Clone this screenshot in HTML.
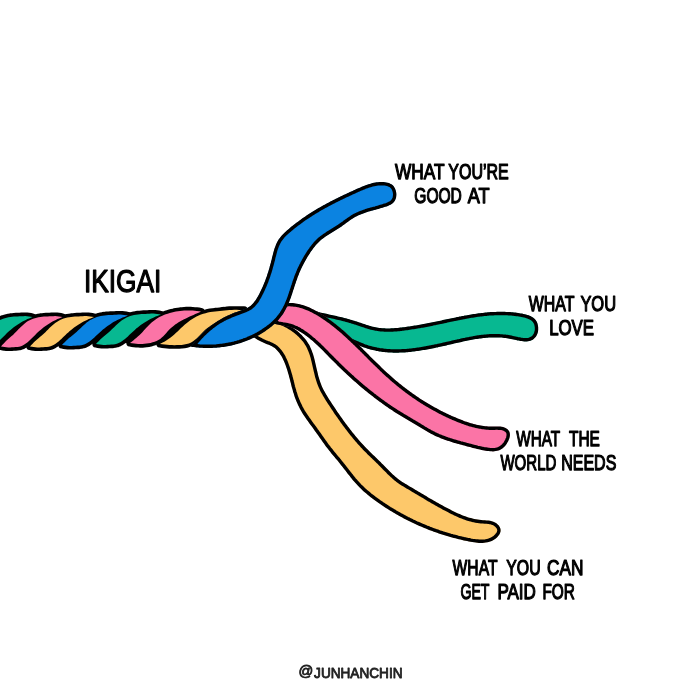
<!DOCTYPE html><html><head><meta charset="utf-8"><title>Ikigai</title><style>html,body{margin:0;padding:0;background:#fff;}body{width:700px;height:700px;overflow:hidden;font-family:"Liberation Sans",sans-serif;}svg{display:block;}</style></head><body><svg width="700" height="700" viewBox="0 0 700 700">
<rect width="700" height="700" fill="#fff"/>
<path d="M-5,320 L60,320 L130,318 L200,314 L200,340 L130,343 L60,344 L-5,344Z" fill="#000"/>
<g stroke="#000" stroke-width="7.3" stroke-linejoin="round" fill="#000">
<path d="M-29.0,346.5 L-27.8,345.1 L-26.5,343.7 L-25.3,342.4 L-24.0,341.0 L-22.6,339.8 L-21.2,338.5 L-19.8,337.3 L-18.4,336.1 L-17.0,334.9 L-15.7,333.6 L-14.4,332.3 L-13.1,331.0 L-11.8,329.6 L-10.5,328.3 L-9.2,327.0 L-7.8,325.7 L-6.4,324.4 L-5.0,323.2 L-3.5,322.1 L-2.0,321.1 L-0.3,320.2 L1.3,319.4 L3.1,318.7 L4.9,318.2 L6.7,317.7 L8.5,317.3 L10.3,317.0 L12.2,316.8 L14.0,316.6 L15.9,316.5 L17.7,316.4 L19.6,316.3 L21.4,316.2 L23.3,316.2 L25.1,316.1 L27.0,316.2 L28.8,316.4 L30.7,316.7 L32.5,317.0 L30.8,317.7 L29.1,318.4 L27.4,319.1 L25.8,319.9 L24.1,320.7 L22.5,321.5 L20.9,322.4 L19.4,323.4 L17.8,324.4 L16.3,325.4 L14.8,326.5 L13.4,327.6 L12.0,328.7 L10.5,329.9 L9.2,331.1 L7.8,332.3 L6.5,333.6 L5.2,334.9 L3.9,336.2 L2.6,337.5 L1.3,338.8 L0.0,340.0 L-1.3,341.3 L-2.7,342.5 L-4.2,343.6 L-5.7,344.6 L-7.3,345.5 L-9.0,346.2 L-10.8,346.7 L-12.6,346.9 L-14.4,347.1 L-16.3,347.2 L-18.1,347.3 L-19.9,347.4 L-21.7,347.4 L-23.6,347.3 L-25.4,347.1 L-27.2,346.8Z"/>
<path d="M1.0,346.5 L2.2,345.1 L3.5,343.7 L4.7,342.4 L6.0,341.0 L7.4,339.8 L8.8,338.5 L10.2,337.3 L11.6,336.1 L13.0,334.9 L14.3,333.6 L15.6,332.3 L16.9,331.0 L18.2,329.6 L19.5,328.3 L20.8,327.0 L22.2,325.7 L23.6,324.4 L25.0,323.2 L26.5,322.1 L28.0,321.1 L29.7,320.2 L31.3,319.4 L33.1,318.7 L34.9,318.2 L36.7,317.7 L38.5,317.3 L40.3,317.0 L42.2,316.8 L44.0,316.6 L45.9,316.5 L47.7,316.4 L49.6,316.3 L51.4,316.2 L53.3,316.2 L55.1,316.1 L57.0,316.2 L58.8,316.4 L60.7,316.7 L62.5,317.0 L60.8,317.7 L59.1,318.4 L57.4,319.1 L55.8,319.9 L54.1,320.7 L52.5,321.5 L50.9,322.4 L49.4,323.4 L47.8,324.4 L46.3,325.4 L44.8,326.5 L43.4,327.6 L42.0,328.7 L40.5,329.9 L39.2,331.1 L37.8,332.3 L36.5,333.6 L35.2,334.9 L33.9,336.2 L32.6,337.5 L31.3,338.8 L30.0,340.0 L28.7,341.3 L27.3,342.5 L25.8,343.6 L24.3,344.6 L22.7,345.5 L21.0,346.2 L19.2,346.7 L17.4,346.9 L15.6,347.1 L13.7,347.2 L11.9,347.3 L10.1,347.4 L8.3,347.4 L6.4,347.3 L4.6,347.1 L2.8,346.8Z"/>
<path d="M30.0,346.5 L31.3,345.1 L32.6,343.7 L33.9,342.3 L35.3,341.0 L36.7,339.7 L38.2,338.4 L39.6,337.2 L41.1,336.0 L42.6,334.8 L44.0,333.5 L45.4,332.2 L46.7,330.8 L48.1,329.5 L49.4,328.1 L50.8,326.8 L52.2,325.5 L53.7,324.3 L55.2,323.1 L56.8,322.0 L58.4,321.0 L60.1,320.1 L61.8,319.3 L63.6,318.6 L65.5,318.1 L67.3,317.6 L69.2,317.3 L71.1,317.0 L73.0,316.8 L74.9,316.6 L76.8,316.5 L78.7,316.4 L80.6,316.3 L82.5,316.2 L84.5,316.1 L86.4,316.1 L88.3,316.2 L90.2,316.4 L92.1,316.7 L94.0,317.0 L92.2,317.7 L90.5,318.4 L88.7,319.1 L87.0,319.9 L85.3,320.7 L83.6,321.5 L81.9,322.4 L80.3,323.4 L78.7,324.4 L77.1,325.4 L75.6,326.5 L74.1,327.6 L72.6,328.7 L71.1,329.9 L69.7,331.1 L68.3,332.4 L66.9,333.6 L65.5,334.9 L64.1,336.3 L62.8,337.6 L61.4,338.9 L60.1,340.1 L58.6,341.4 L57.2,342.6 L55.6,343.7 L54.0,344.7 L52.4,345.6 L50.6,346.3 L48.8,346.7 L46.9,347.0 L45.0,347.1 L43.1,347.2 L41.2,347.3 L39.4,347.4 L37.5,347.4 L35.6,347.3 L33.7,347.1 L31.9,346.8Z"/>
<path d="M62.0,345.0 L63.3,343.6 L64.7,342.2 L66.1,340.8 L67.5,339.4 L69.0,338.1 L70.5,336.9 L72.0,335.7 L73.5,334.4 L75.0,333.2 L76.5,331.9 L78.0,330.6 L79.4,329.2 L80.8,327.9 L82.2,326.5 L83.6,325.2 L85.1,323.9 L86.6,322.6 L88.2,321.4 L89.8,320.3 L91.5,319.4 L93.3,318.5 L95.1,317.7 L96.9,317.1 L98.8,316.5 L100.7,316.1 L102.6,315.7 L104.6,315.5 L106.5,315.2 L108.5,315.1 L110.4,315.0 L112.4,314.9 L114.3,314.8 L116.3,314.7 L118.3,314.6 L120.2,314.6 L122.2,314.7 L124.1,314.9 L126.1,315.2 L128.0,315.5 L126.2,316.2 L124.4,316.9 L122.6,317.6 L120.8,318.4 L119.1,319.2 L117.3,320.0 L115.6,320.9 L113.9,321.8 L112.3,322.8 L110.7,323.9 L109.1,325.0 L107.5,326.1 L105.9,327.2 L104.4,328.4 L102.9,329.6 L101.4,330.9 L100.0,332.2 L98.6,333.5 L97.2,334.8 L95.8,336.1 L94.4,337.4 L92.9,338.7 L91.4,340.0 L89.9,341.2 L88.3,342.3 L86.7,343.3 L84.9,344.2 L83.1,344.8 L81.3,345.2 L79.3,345.5 L77.4,345.6 L75.5,345.7 L73.5,345.8 L71.6,345.9 L69.7,345.9 L67.7,345.8 L65.8,345.6 L63.9,345.3Z"/>
<path d="M96.0,344.0 L97.3,342.6 L98.7,341.2 L100.0,339.8 L101.4,338.5 L102.8,337.2 L104.3,335.9 L105.8,334.7 L107.3,333.5 L108.8,332.2 L110.2,331.0 L111.6,329.6 L113.0,328.3 L114.4,326.9 L115.8,325.6 L117.2,324.2 L118.6,322.9 L120.1,321.7 L121.6,320.5 L123.2,319.4 L124.9,318.4 L126.6,317.5 L128.4,316.8 L130.2,316.1 L132.1,315.6 L134.0,315.1 L135.9,314.7 L137.8,314.5 L139.7,314.3 L141.6,314.1 L143.5,314.0 L145.5,313.9 L147.4,313.8 L149.3,313.7 L151.3,313.6 L153.2,313.6 L155.1,313.7 L157.1,313.9 L159.0,314.2 L160.9,314.5 L159.1,315.2 L157.3,315.9 L155.6,316.6 L153.8,317.4 L152.1,318.2 L150.4,319.0 L148.7,319.9 L147.1,320.9 L145.4,321.9 L143.8,322.9 L142.3,324.0 L140.7,325.1 L139.2,326.2 L137.7,327.4 L136.2,328.6 L134.8,329.9 L133.4,331.2 L132.0,332.5 L130.6,333.8 L129.2,335.1 L127.9,336.4 L126.4,337.7 L125.0,338.9 L123.5,340.1 L121.9,341.2 L120.3,342.3 L118.6,343.1 L116.9,343.8 L115.0,344.2 L113.1,344.5 L111.2,344.6 L109.3,344.7 L107.4,344.8 L105.5,344.9 L103.6,344.9 L101.7,344.8 L99.8,344.6 L97.9,344.3Z"/>
<path d="M130.0,343.0 L131.7,341.7 L133.3,340.4 L134.9,339.0 L136.5,337.7 L138.1,336.3 L139.6,334.9 L141.1,333.4 L142.6,331.9 L144.0,330.3 L145.4,328.8 L146.8,327.2 L148.3,325.7 L149.8,324.2 L151.3,322.8 L152.9,321.4 L154.6,320.2 L156.3,319.0 L158.1,317.8 L160.0,316.8 L161.8,315.9 L163.8,315.1 L165.7,314.3 L167.7,313.7 L169.8,313.1 L171.8,312.5 L173.8,312.1 L175.9,311.6 L178.0,311.3 L180.1,311.0 L182.1,310.8 L184.2,310.6 L186.3,310.5 L188.4,310.5 L190.5,310.5 L192.6,310.6 L194.7,310.8 L196.8,311.0 L198.9,311.2 L201.0,311.5 L199.1,312.4 L197.2,313.2 L195.3,314.1 L193.5,314.9 L191.6,315.8 L189.7,316.6 L187.8,317.5 L185.9,318.4 L184.1,319.3 L182.2,320.3 L180.4,321.3 L178.6,322.3 L176.9,323.4 L175.2,324.6 L173.5,325.9 L171.9,327.2 L170.4,328.6 L168.9,330.1 L167.5,331.6 L166.1,333.2 L164.7,334.8 L163.3,336.2 L161.8,337.6 L160.2,338.9 L158.4,340.0 L156.6,340.9 L154.6,341.7 L152.6,342.3 L150.6,342.9 L148.6,343.3 L146.5,343.6 L144.4,343.8 L142.4,344.0 L140.3,344.0 L138.2,343.9 L136.2,343.8 L134.1,343.6 L132.1,343.3Z"/>
<path d="M160.0,344.0 L162.1,342.8 L164.3,341.7 L166.3,340.4 L168.4,339.1 L170.3,337.8 L172.2,336.3 L174.0,334.7 L175.8,333.0 L177.6,331.4 L179.3,329.7 L181.0,328.0 L182.8,326.4 L184.6,324.7 L186.5,323.2 L188.4,321.7 L190.3,320.3 L192.3,318.9 L194.4,317.7 L196.5,316.6 L198.7,315.5 L201.0,314.6 L203.3,313.8 L205.6,313.2 L207.9,312.6 L210.3,312.1 L212.7,311.8 L215.1,311.5 L217.5,311.3 L219.9,311.0 L222.3,310.7 L224.7,310.5 L227.1,310.2 L229.5,310.0 L231.9,309.9 L234.3,309.8 L236.7,309.8 L239.2,309.9 L241.6,309.9 L244.0,310.0 L241.6,310.6 L239.3,311.2 L237.0,311.9 L234.7,312.6 L232.4,313.5 L230.2,314.4 L228.0,315.4 L225.8,316.5 L223.7,317.7 L221.6,318.9 L219.6,320.2 L217.5,321.4 L215.5,322.7 L213.4,324.0 L211.3,325.3 L209.3,326.7 L207.4,328.1 L205.5,329.6 L203.7,331.2 L202.0,332.9 L200.3,334.7 L198.6,336.4 L196.9,338.2 L195.0,339.8 L193.1,341.2 L191.1,342.5 L188.9,343.5 L186.6,344.1 L184.2,344.6 L181.7,344.9 L179.3,345.0 L176.9,345.1 L174.4,345.2 L172.0,345.1 L169.6,345.0 L167.2,344.8 L164.8,344.6 L162.4,344.3Z"/>
</g>
<path d="M-29.0,346.5 L-27.8,345.1 L-26.5,343.7 L-25.3,342.4 L-24.0,341.0 L-22.6,339.8 L-21.2,338.5 L-19.8,337.3 L-18.4,336.1 L-17.0,334.9 L-15.7,333.6 L-14.4,332.3 L-13.1,331.0 L-11.8,329.6 L-10.5,328.3 L-9.2,327.0 L-7.8,325.7 L-6.4,324.4 L-5.0,323.2 L-3.5,322.1 L-2.0,321.1 L-0.3,320.2 L1.3,319.4 L3.1,318.7 L4.9,318.2 L6.7,317.7 L8.5,317.3 L10.3,317.0 L12.2,316.8 L14.0,316.6 L15.9,316.5 L17.7,316.4 L19.6,316.3 L21.4,316.2 L23.3,316.2 L25.1,316.1 L27.0,316.2 L28.8,316.4 L30.7,316.7 L32.5,317.0 L30.8,317.7 L29.1,318.4 L27.4,319.1 L25.8,319.9 L24.1,320.7 L22.5,321.5 L20.9,322.4 L19.4,323.4 L17.8,324.4 L16.3,325.4 L14.8,326.5 L13.4,327.6 L12.0,328.7 L10.5,329.9 L9.2,331.1 L7.8,332.3 L6.5,333.6 L5.2,334.9 L3.9,336.2 L2.6,337.5 L1.3,338.8 L0.0,340.0 L-1.3,341.3 L-2.7,342.5 L-4.2,343.6 L-5.7,344.6 L-7.3,345.5 L-9.0,346.2 L-10.8,346.7 L-12.6,346.9 L-14.4,347.1 L-16.3,347.2 L-18.1,347.3 L-19.9,347.4 L-21.7,347.4 L-23.6,347.3 L-25.4,347.1 L-27.2,346.8Z" fill="#07b891"/>
<path d="M1.0,346.5 L2.2,345.1 L3.5,343.7 L4.7,342.4 L6.0,341.0 L7.4,339.8 L8.8,338.5 L10.2,337.3 L11.6,336.1 L13.0,334.9 L14.3,333.6 L15.6,332.3 L16.9,331.0 L18.2,329.6 L19.5,328.3 L20.8,327.0 L22.2,325.7 L23.6,324.4 L25.0,323.2 L26.5,322.1 L28.0,321.1 L29.7,320.2 L31.3,319.4 L33.1,318.7 L34.9,318.2 L36.7,317.7 L38.5,317.3 L40.3,317.0 L42.2,316.8 L44.0,316.6 L45.9,316.5 L47.7,316.4 L49.6,316.3 L51.4,316.2 L53.3,316.2 L55.1,316.1 L57.0,316.2 L58.8,316.4 L60.7,316.7 L62.5,317.0 L60.8,317.7 L59.1,318.4 L57.4,319.1 L55.8,319.9 L54.1,320.7 L52.5,321.5 L50.9,322.4 L49.4,323.4 L47.8,324.4 L46.3,325.4 L44.8,326.5 L43.4,327.6 L42.0,328.7 L40.5,329.9 L39.2,331.1 L37.8,332.3 L36.5,333.6 L35.2,334.9 L33.9,336.2 L32.6,337.5 L31.3,338.8 L30.0,340.0 L28.7,341.3 L27.3,342.5 L25.8,343.6 L24.3,344.6 L22.7,345.5 L21.0,346.2 L19.2,346.7 L17.4,346.9 L15.6,347.1 L13.7,347.2 L11.9,347.3 L10.1,347.4 L8.3,347.4 L6.4,347.3 L4.6,347.1 L2.8,346.8Z" fill="#fb74a6"/>
<path d="M30.0,346.5 L31.3,345.1 L32.6,343.7 L33.9,342.3 L35.3,341.0 L36.7,339.7 L38.2,338.4 L39.6,337.2 L41.1,336.0 L42.6,334.8 L44.0,333.5 L45.4,332.2 L46.7,330.8 L48.1,329.5 L49.4,328.1 L50.8,326.8 L52.2,325.5 L53.7,324.3 L55.2,323.1 L56.8,322.0 L58.4,321.0 L60.1,320.1 L61.8,319.3 L63.6,318.6 L65.5,318.1 L67.3,317.6 L69.2,317.3 L71.1,317.0 L73.0,316.8 L74.9,316.6 L76.8,316.5 L78.7,316.4 L80.6,316.3 L82.5,316.2 L84.5,316.1 L86.4,316.1 L88.3,316.2 L90.2,316.4 L92.1,316.7 L94.0,317.0 L92.2,317.7 L90.5,318.4 L88.7,319.1 L87.0,319.9 L85.3,320.7 L83.6,321.5 L81.9,322.4 L80.3,323.4 L78.7,324.4 L77.1,325.4 L75.6,326.5 L74.1,327.6 L72.6,328.7 L71.1,329.9 L69.7,331.1 L68.3,332.4 L66.9,333.6 L65.5,334.9 L64.1,336.3 L62.8,337.6 L61.4,338.9 L60.1,340.1 L58.6,341.4 L57.2,342.6 L55.6,343.7 L54.0,344.7 L52.4,345.6 L50.6,346.3 L48.8,346.7 L46.9,347.0 L45.0,347.1 L43.1,347.2 L41.2,347.3 L39.4,347.4 L37.5,347.4 L35.6,347.3 L33.7,347.1 L31.9,346.8Z" fill="#fdc86a"/>
<path d="M62.0,345.0 L63.3,343.6 L64.7,342.2 L66.1,340.8 L67.5,339.4 L69.0,338.1 L70.5,336.9 L72.0,335.7 L73.5,334.4 L75.0,333.2 L76.5,331.9 L78.0,330.6 L79.4,329.2 L80.8,327.9 L82.2,326.5 L83.6,325.2 L85.1,323.9 L86.6,322.6 L88.2,321.4 L89.8,320.3 L91.5,319.4 L93.3,318.5 L95.1,317.7 L96.9,317.1 L98.8,316.5 L100.7,316.1 L102.6,315.7 L104.6,315.5 L106.5,315.2 L108.5,315.1 L110.4,315.0 L112.4,314.9 L114.3,314.8 L116.3,314.7 L118.3,314.6 L120.2,314.6 L122.2,314.7 L124.1,314.9 L126.1,315.2 L128.0,315.5 L126.2,316.2 L124.4,316.9 L122.6,317.6 L120.8,318.4 L119.1,319.2 L117.3,320.0 L115.6,320.9 L113.9,321.8 L112.3,322.8 L110.7,323.9 L109.1,325.0 L107.5,326.1 L105.9,327.2 L104.4,328.4 L102.9,329.6 L101.4,330.9 L100.0,332.2 L98.6,333.5 L97.2,334.8 L95.8,336.1 L94.4,337.4 L92.9,338.7 L91.4,340.0 L89.9,341.2 L88.3,342.3 L86.7,343.3 L84.9,344.2 L83.1,344.8 L81.3,345.2 L79.3,345.5 L77.4,345.6 L75.5,345.7 L73.5,345.8 L71.6,345.9 L69.7,345.9 L67.7,345.8 L65.8,345.6 L63.9,345.3Z" fill="#0b83e1"/>
<path d="M96.0,344.0 L97.3,342.6 L98.7,341.2 L100.0,339.8 L101.4,338.5 L102.8,337.2 L104.3,335.9 L105.8,334.7 L107.3,333.5 L108.8,332.2 L110.2,331.0 L111.6,329.6 L113.0,328.3 L114.4,326.9 L115.8,325.6 L117.2,324.2 L118.6,322.9 L120.1,321.7 L121.6,320.5 L123.2,319.4 L124.9,318.4 L126.6,317.5 L128.4,316.8 L130.2,316.1 L132.1,315.6 L134.0,315.1 L135.9,314.7 L137.8,314.5 L139.7,314.3 L141.6,314.1 L143.5,314.0 L145.5,313.9 L147.4,313.8 L149.3,313.7 L151.3,313.6 L153.2,313.6 L155.1,313.7 L157.1,313.9 L159.0,314.2 L160.9,314.5 L159.1,315.2 L157.3,315.9 L155.6,316.6 L153.8,317.4 L152.1,318.2 L150.4,319.0 L148.7,319.9 L147.1,320.9 L145.4,321.9 L143.8,322.9 L142.3,324.0 L140.7,325.1 L139.2,326.2 L137.7,327.4 L136.2,328.6 L134.8,329.9 L133.4,331.2 L132.0,332.5 L130.6,333.8 L129.2,335.1 L127.9,336.4 L126.4,337.7 L125.0,338.9 L123.5,340.1 L121.9,341.2 L120.3,342.3 L118.6,343.1 L116.9,343.8 L115.0,344.2 L113.1,344.5 L111.2,344.6 L109.3,344.7 L107.4,344.8 L105.5,344.9 L103.6,344.9 L101.7,344.8 L99.8,344.6 L97.9,344.3Z" fill="#07b891"/>
<path d="M130.0,343.0 L131.7,341.7 L133.3,340.4 L134.9,339.0 L136.5,337.7 L138.1,336.3 L139.6,334.9 L141.1,333.4 L142.6,331.9 L144.0,330.3 L145.4,328.8 L146.8,327.2 L148.3,325.7 L149.8,324.2 L151.3,322.8 L152.9,321.4 L154.6,320.2 L156.3,319.0 L158.1,317.8 L160.0,316.8 L161.8,315.9 L163.8,315.1 L165.7,314.3 L167.7,313.7 L169.8,313.1 L171.8,312.5 L173.8,312.1 L175.9,311.6 L178.0,311.3 L180.1,311.0 L182.1,310.8 L184.2,310.6 L186.3,310.5 L188.4,310.5 L190.5,310.5 L192.6,310.6 L194.7,310.8 L196.8,311.0 L198.9,311.2 L201.0,311.5 L199.1,312.4 L197.2,313.2 L195.3,314.1 L193.5,314.9 L191.6,315.8 L189.7,316.6 L187.8,317.5 L185.9,318.4 L184.1,319.3 L182.2,320.3 L180.4,321.3 L178.6,322.3 L176.9,323.4 L175.2,324.6 L173.5,325.9 L171.9,327.2 L170.4,328.6 L168.9,330.1 L167.5,331.6 L166.1,333.2 L164.7,334.8 L163.3,336.2 L161.8,337.6 L160.2,338.9 L158.4,340.0 L156.6,340.9 L154.6,341.7 L152.6,342.3 L150.6,342.9 L148.6,343.3 L146.5,343.6 L144.4,343.8 L142.4,344.0 L140.3,344.0 L138.2,343.9 L136.2,343.8 L134.1,343.6 L132.1,343.3Z" fill="#fb74a6"/>
<path d="M160.0,344.0 L162.1,342.8 L164.3,341.7 L166.3,340.4 L168.4,339.1 L170.3,337.8 L172.2,336.3 L174.0,334.7 L175.8,333.0 L177.6,331.4 L179.3,329.7 L181.0,328.0 L182.8,326.4 L184.6,324.7 L186.5,323.2 L188.4,321.7 L190.3,320.3 L192.3,318.9 L194.4,317.7 L196.5,316.6 L198.7,315.5 L201.0,314.6 L203.3,313.8 L205.6,313.2 L207.9,312.6 L210.3,312.1 L212.7,311.8 L215.1,311.5 L217.5,311.3 L219.9,311.0 L222.3,310.7 L224.7,310.5 L227.1,310.2 L229.5,310.0 L231.9,309.9 L234.3,309.8 L236.7,309.8 L239.2,309.9 L241.6,309.9 L244.0,310.0 L241.6,310.6 L239.3,311.2 L237.0,311.9 L234.7,312.6 L232.4,313.5 L230.2,314.4 L228.0,315.4 L225.8,316.5 L223.7,317.7 L221.6,318.9 L219.6,320.2 L217.5,321.4 L215.5,322.7 L213.4,324.0 L211.3,325.3 L209.3,326.7 L207.4,328.1 L205.5,329.6 L203.7,331.2 L202.0,332.9 L200.3,334.7 L198.6,336.4 L196.9,338.2 L195.0,339.8 L193.1,341.2 L191.1,342.5 L188.9,343.5 L186.6,344.1 L184.2,344.6 L181.7,344.9 L179.3,345.0 L176.9,345.1 L174.4,345.2 L172.0,345.1 L169.6,345.0 L167.2,344.8 L164.8,344.6 L162.4,344.3Z" fill="#fdc86a"/>
<defs>
<clipPath id="cg"><path d="M292.0,305.4 L293.3,305.8 L294.5,306.2 L295.8,306.5 L297.1,306.9 L298.3,307.2 L299.6,307.5 L300.9,307.9 L302.1,308.2 L303.4,308.5 L304.7,308.8 L305.9,309.1 L307.2,309.4 L308.5,309.7 L309.7,310.0 L311.0,310.3 L312.3,310.6 L313.6,310.9 L314.9,311.2 L316.1,311.5 L317.4,311.8 L318.7,312.1 L320.0,312.4 L321.2,312.7 L322.5,313.0 L323.8,313.2 L325.1,313.5 L326.4,313.8 L327.6,314.1 L328.9,314.4 L330.2,314.7 L331.5,314.9 L332.7,315.2 L334.0,315.5 L335.3,315.8 L336.6,316.1 L337.8,316.4 L339.1,316.7 L340.4,317.0 L341.7,317.3 L342.9,317.6 L344.2,318.0 L345.5,318.3 L346.7,318.6 L348.0,319.0 L349.2,319.3 L350.5,319.7 L351.8,320.0 L353.0,320.4 L354.3,320.8 L355.5,321.2 L356.8,321.6 L358.0,322.0 L359.3,322.4 L360.5,322.8 L361.7,323.3 L363.0,323.7 L364.2,324.1 L365.5,324.5 L366.7,324.9 L368.0,325.3 L369.2,325.7 L370.5,326.1 L371.7,326.4 L373.0,326.7 L374.3,327.0 L375.5,327.3 L376.8,327.5 L378.1,327.7 L379.4,327.9 L380.7,328.0 L382.0,328.2 L383.3,328.2 L384.6,328.3 L385.9,328.4 L387.2,328.4 L388.5,328.4 L389.9,328.4 L391.2,328.3 L392.5,328.3 L393.8,328.2 L395.1,328.1 L396.4,328.0 L397.7,327.9 L399.0,327.8 L400.3,327.6 L401.6,327.5 L402.9,327.3 L404.2,327.2 L405.5,327.0 L406.8,326.8 L408.1,326.6 L409.4,326.4 L410.7,326.2 L412.0,326.0 L413.3,325.8 L414.6,325.6 L415.9,325.4 L417.2,325.2 L418.4,325.0 L419.7,324.8 L421.0,324.5 L422.3,324.3 L423.6,324.1 L424.9,323.8 L426.2,323.6 L427.4,323.3 L428.7,323.1 L430.0,322.8 L431.3,322.6 L432.6,322.3 L433.9,322.0 L435.1,321.8 L436.4,321.5 L437.7,321.2 L439.0,320.9 L440.3,320.7 L441.6,320.4 L442.8,320.1 L444.1,319.8 L445.4,319.6 L446.7,319.3 L448.0,319.0 L449.3,318.7 L450.5,318.5 L451.8,318.2 L453.1,317.9 L454.4,317.7 L455.7,317.4 L457.0,317.1 L458.2,316.9 L459.5,316.6 L460.8,316.4 L462.1,316.1 L463.4,315.9 L464.7,315.6 L466.0,315.4 L467.2,315.2 L468.5,314.9 L469.8,314.7 L471.1,314.5 L472.4,314.3 L473.7,314.1 L475.0,313.9 L476.2,313.7 L477.5,313.5 L478.8,313.3 L480.1,313.2 L481.4,313.0 L482.7,312.9 L484.0,312.7 L485.3,312.6 L486.6,312.5 L487.9,312.3 L489.2,312.2 L490.5,312.1 L491.8,312.1 L493.1,312.0 L494.4,311.9 L495.7,311.9 L497.0,311.8 L498.3,311.8 L499.6,311.8 L500.9,311.8 L502.2,311.8 L503.5,311.8 L504.8,311.8 L506.1,311.9 L507.4,311.9 L508.8,312.0 L510.1,312.1 L511.4,312.2 L512.7,312.3 L514.1,312.5 L515.4,312.6 L516.7,312.8 L518.1,313.0 L519.4,313.2 L520.7,313.4 L522.1,313.6 L523.4,313.9 L524.7,314.2 L526.0,314.5 L527.3,314.9 L528.6,315.3 L529.7,315.8 L530.9,316.3 L532.0,316.9 L533.0,317.5 L533.9,318.3 L534.8,319.1 L535.6,320.0 L536.3,321.0 L536.9,322.1 L537.4,323.3 L537.7,324.6 L538.0,325.9 L538.2,327.2 L538.2,328.6 L538.2,330.0 L538.0,331.4 L537.7,332.7 L537.3,333.9 L536.8,335.1 L536.2,336.2 L535.4,337.2 L534.6,338.1 L533.7,339.0 L532.7,339.7 L531.6,340.2 L530.5,340.7 L529.3,341.1 L528.1,341.3 L526.9,341.4 L525.6,341.5 L524.3,341.4 L522.9,341.3 L521.6,341.1 L520.2,340.9 L518.9,340.6 L517.5,340.4 L516.1,340.1 L514.8,339.8 L513.5,339.5 L512.2,339.2 L510.9,338.9 L509.6,338.7 L508.3,338.4 L506.9,338.2 L505.6,338.0 L504.3,337.9 L503.0,337.8 L501.7,337.6 L500.4,337.6 L499.1,337.5 L497.8,337.4 L496.5,337.4 L495.2,337.4 L493.9,337.4 L492.6,337.4 L491.3,337.5 L490.0,337.5 L488.7,337.6 L487.4,337.7 L486.1,337.8 L484.8,337.9 L483.5,338.1 L482.2,338.2 L480.9,338.4 L479.7,338.5 L478.4,338.7 L477.1,338.9 L475.8,339.1 L474.5,339.3 L473.2,339.6 L471.9,339.8 L470.6,340.0 L469.3,340.3 L468.0,340.5 L466.8,340.8 L465.5,341.1 L464.2,341.3 L462.9,341.6 L461.6,341.9 L460.4,342.2 L459.1,342.5 L457.8,342.7 L456.5,343.0 L455.3,343.3 L454.0,343.6 L452.7,343.9 L451.4,344.2 L450.2,344.5 L448.9,344.8 L447.6,345.1 L446.4,345.4 L445.1,345.7 L443.8,345.9 L442.5,346.2 L441.3,346.5 L440.0,346.8 L438.7,347.1 L437.4,347.4 L436.2,347.6 L434.9,347.9 L433.6,348.2 L432.3,348.4 L431.0,348.7 L429.7,348.9 L428.4,349.2 L427.1,349.4 L425.8,349.7 L424.5,349.9 L423.2,350.1 L421.9,350.3 L420.6,350.5 L419.3,350.8 L418.0,350.9 L416.7,351.1 L415.4,351.3 L414.1,351.5 L412.8,351.6 L411.5,351.8 L410.2,351.9 L408.9,352.1 L407.6,352.2 L406.3,352.3 L405.0,352.4 L403.7,352.5 L402.4,352.5 L401.1,352.6 L399.8,352.6 L398.5,352.7 L397.2,352.7 L395.9,352.7 L394.6,352.7 L393.3,352.7 L392.0,352.6 L390.7,352.6 L389.4,352.5 L388.1,352.4 L386.8,352.3 L385.5,352.2 L384.2,352.1 L382.9,351.9 L381.7,351.7 L380.4,351.6 L379.1,351.4 L377.8,351.1 L376.5,350.9 L375.3,350.6 L374.0,350.3 L372.7,350.0 L371.5,349.7 L370.2,349.4 L368.9,349.0 L367.7,348.7 L366.4,348.3 L365.2,347.8 L363.9,347.4 L362.7,347.0 L361.5,346.5 L360.2,346.0 L359.0,345.6 L357.8,345.0 L356.6,344.5 L355.3,344.0 L354.1,343.4 L352.9,342.9 L351.7,342.3 L350.5,341.7 L349.4,341.1 L348.2,340.5 L347.0,339.9 L345.8,339.3 L344.7,338.6 L343.5,338.0 L342.4,337.3 L341.2,336.6 L340.1,336.0 L338.9,335.3 L337.8,334.6 L336.7,333.9 L335.6,333.2 L334.4,332.5 L333.3,331.9 L332.2,331.2 L331.1,330.5 L330.0,329.8 L328.8,329.2 L327.7,328.5 L326.6,327.8 L325.5,327.2 L324.3,326.6 L323.2,325.9 L322.1,325.3 L320.9,324.8 L319.8,324.2 L318.6,323.6 L317.4,323.1 L316.3,322.6 L315.1,322.1 L313.9,321.6 L312.7,321.1 L311.5,320.7 L310.3,320.3 L309.1,319.9 L307.8,319.5 L306.6,319.2 L305.3,318.9 L304.1,318.7 L302.8,318.4 L301.5,318.2 L300.2,318.1 L298.9,318.0 L297.5,317.9 L296.1,317.8 L294.8,317.8 L293.4,317.9 L292.0,317.9Z"/></clipPath>
<clipPath id="cy"><path d="M246.0,332.0 L247.5,333.0 L248.9,333.9 L250.3,334.9 L251.7,335.9 L253.1,336.9 L254.6,337.8 L256.0,338.8 L257.5,339.7 L259.0,340.5 L260.5,341.3 L262.1,342.1 L263.7,342.8 L265.3,343.5 L267.0,344.2 L268.7,344.8 L270.3,345.5 L271.9,346.3 L273.4,347.2 L274.8,348.1 L276.0,349.2 L277.2,350.4 L278.3,351.7 L279.4,353.0 L280.3,354.4 L281.2,355.8 L282.1,357.3 L282.8,358.8 L283.6,360.4 L284.3,361.9 L284.9,363.5 L285.5,365.1 L286.1,366.8 L286.7,368.4 L287.2,370.0 L287.7,371.7 L288.2,373.4 L288.7,375.0 L289.1,376.7 L289.6,378.4 L290.0,380.1 L290.4,381.8 L290.9,383.5 L291.3,385.2 L291.7,386.9 L292.2,388.6 L292.7,390.2 L293.1,391.9 L293.7,393.6 L294.2,395.2 L294.7,396.9 L295.3,398.5 L295.9,400.1 L296.6,401.7 L297.3,403.3 L298.0,404.9 L298.8,406.4 L299.5,408.0 L300.3,409.5 L301.2,411.0 L302.0,412.5 L302.9,413.9 L303.9,415.4 L304.8,416.8 L305.8,418.2 L306.8,419.7 L307.8,421.1 L308.8,422.5 L309.8,423.9 L310.8,425.3 L311.8,426.6 L312.9,428.0 L313.9,429.4 L314.9,430.9 L315.9,432.3 L316.9,433.7 L317.9,435.1 L318.9,436.5 L319.9,437.9 L320.9,439.3 L321.9,440.8 L322.9,442.2 L323.9,443.6 L324.9,445.0 L325.9,446.4 L327.0,447.7 L328.0,449.1 L329.1,450.5 L330.2,451.8 L331.2,453.2 L332.3,454.5 L333.4,455.8 L334.5,457.1 L335.6,458.5 L336.8,459.8 L337.9,461.1 L339.0,462.5 L340.0,463.8 L341.1,465.2 L342.2,466.5 L343.3,467.9 L344.3,469.3 L345.4,470.6 L346.5,472.0 L347.5,473.4 L348.6,474.8 L349.7,476.1 L350.7,477.5 L351.8,478.8 L352.9,480.2 L354.1,481.5 L355.2,482.8 L356.4,484.1 L357.5,485.3 L358.7,486.6 L359.9,487.8 L361.2,489.0 L362.4,490.2 L363.7,491.4 L365.0,492.5 L366.3,493.6 L367.6,494.7 L368.9,495.8 L370.3,496.9 L371.7,498.0 L373.0,499.0 L374.4,500.1 L375.8,501.1 L377.2,502.1 L378.6,503.1 L380.1,504.1 L381.5,505.1 L383.0,506.0 L384.4,507.0 L385.9,507.9 L387.3,508.8 L388.8,509.8 L390.3,510.7 L391.8,511.6 L393.3,512.4 L394.7,513.3 L396.2,514.2 L397.7,515.0 L399.3,515.9 L400.8,516.7 L402.3,517.6 L403.8,518.4 L405.4,519.2 L406.9,520.0 L408.4,520.7 L410.0,521.5 L411.5,522.3 L413.1,523.0 L414.7,523.8 L416.2,524.5 L417.8,525.2 L419.4,525.9 L421.0,526.6 L422.6,527.3 L424.2,527.9 L425.8,528.6 L427.4,529.2 L429.0,529.9 L430.6,530.5 L432.2,531.1 L433.8,531.7 L435.5,532.3 L437.1,532.8 L438.7,533.4 L440.4,533.9 L442.0,534.5 L443.7,535.0 L445.3,535.5 L447.0,536.0 L448.7,536.5 L450.3,537.0 L452.0,537.4 L453.7,537.9 L455.4,538.3 L457.0,538.8 L458.7,539.2 L460.4,539.6 L462.1,540.0 L463.8,540.4 L465.4,540.7 L467.1,541.1 L468.8,541.4 L470.5,541.8 L472.2,542.1 L473.9,542.3 L475.6,542.6 L477.3,542.7 L479.0,542.9 L480.7,542.9 L482.5,542.9 L484.2,542.8 L485.9,542.6 L487.7,542.2 L489.4,541.8 L491.1,541.2 L492.7,540.4 L494.3,539.5 L495.8,538.4 L497.2,537.2 L498.4,535.8 L499.4,534.4 L500.1,532.9 L500.6,531.3 L500.6,529.8 L500.3,528.3 L499.7,526.9 L498.8,525.6 L497.7,524.4 L496.4,523.3 L495.0,522.4 L493.4,521.7 L491.8,521.2 L490.1,520.8 L488.4,520.5 L486.6,520.4 L484.8,520.3 L483.0,520.2 L481.2,520.0 L479.4,519.8 L477.7,519.6 L475.9,519.3 L474.2,519.0 L472.5,518.6 L470.9,518.1 L469.2,517.7 L467.6,517.2 L465.9,516.6 L464.3,516.0 L462.7,515.4 L461.1,514.8 L459.6,514.1 L458.0,513.4 L456.4,512.7 L454.9,511.9 L453.3,511.2 L451.8,510.4 L450.2,509.6 L448.7,508.8 L447.2,508.0 L445.6,507.2 L444.1,506.4 L442.6,505.6 L441.1,504.7 L439.6,503.9 L438.1,503.1 L436.5,502.2 L435.0,501.3 L433.5,500.5 L432.0,499.6 L430.5,498.7 L429.0,497.9 L427.5,497.0 L426.1,496.1 L424.6,495.2 L423.1,494.3 L421.6,493.4 L420.1,492.6 L418.6,491.7 L417.1,490.8 L415.6,489.9 L414.1,489.0 L412.6,488.1 L411.1,487.2 L409.7,486.4 L408.2,485.5 L406.7,484.6 L405.2,483.7 L403.7,482.8 L402.3,481.9 L400.9,480.9 L399.5,479.9 L398.1,478.9 L396.7,477.8 L395.4,476.7 L394.1,475.5 L392.8,474.4 L391.6,473.2 L390.3,472.0 L389.1,470.8 L387.9,469.5 L386.6,468.3 L385.4,467.1 L384.2,465.8 L383.0,464.6 L381.8,463.4 L380.6,462.1 L379.4,460.9 L378.1,459.7 L376.9,458.5 L375.6,457.3 L374.4,456.1 L373.1,454.9 L371.9,453.7 L370.6,452.5 L369.4,451.3 L368.2,450.0 L366.9,448.8 L365.7,447.6 L364.5,446.3 L363.4,445.1 L362.2,443.8 L361.0,442.5 L359.9,441.2 L358.8,439.9 L357.6,438.6 L356.5,437.3 L355.4,436.0 L354.3,434.6 L353.2,433.3 L352.1,431.9 L351.1,430.6 L350.0,429.2 L349.0,427.8 L347.9,426.5 L346.9,425.1 L345.8,423.7 L344.8,422.3 L343.8,420.9 L342.8,419.5 L341.8,418.1 L340.8,416.7 L339.8,415.2 L338.8,413.8 L337.8,412.4 L336.8,411.0 L335.9,409.5 L334.9,408.1 L333.9,406.6 L333.0,405.2 L332.0,403.7 L331.1,402.3 L330.1,400.8 L329.2,399.4 L328.3,397.9 L327.4,396.4 L326.5,395.0 L325.6,393.5 L324.8,392.0 L323.9,390.5 L323.1,388.9 L322.4,387.4 L321.7,385.9 L321.1,384.3 L320.5,382.7 L319.9,381.1 L319.4,379.5 L318.9,377.8 L318.4,376.2 L318.0,374.5 L317.6,372.8 L317.2,371.1 L316.8,369.4 L316.4,367.7 L316.0,365.9 L315.6,364.2 L315.2,362.5 L314.8,360.8 L314.4,359.1 L314.0,357.4 L313.5,355.7 L313.0,354.1 L312.4,352.4 L311.8,350.8 L311.2,349.2 L310.5,347.7 L309.8,346.1 L309.0,344.6 L308.1,343.2 L307.2,341.7 L306.2,340.3 L305.2,339.0 L304.1,337.7 L302.9,336.4 L301.7,335.1 L300.5,333.9 L299.2,332.7 L297.9,331.6 L296.6,330.5 L295.2,329.4 L293.8,328.4 L292.3,327.4 L290.8,326.5 L289.3,325.6 L287.8,324.7 L286.2,323.9 L284.7,323.1 L283.1,322.4 L281.5,321.7 L279.8,321.0 L278.2,320.4 L276.6,319.8 L274.9,319.3 L273.3,318.8 L271.6,318.4 L270.0,318.0Z"/></clipPath>
<clipPath id="cp"><path d="M264.0,314.0 L264.9,312.8 L265.9,311.7 L266.9,310.6 L268.0,309.7 L269.1,308.8 L270.3,307.9 L271.6,307.2 L272.8,306.5 L274.2,305.9 L275.5,305.3 L276.9,304.8 L278.3,304.4 L279.7,304.0 L281.1,303.7 L282.6,303.4 L284.0,303.2 L285.5,303.1 L287.0,303.0 L288.5,302.9 L289.9,302.9 L291.4,303.0 L292.8,303.1 L294.3,303.3 L295.7,303.5 L297.1,303.7 L298.5,304.0 L299.9,304.3 L301.3,304.7 L302.7,305.1 L304.1,305.5 L305.5,306.0 L306.8,306.5 L308.2,307.1 L309.5,307.6 L310.9,308.2 L312.2,308.9 L313.5,309.5 L314.8,310.2 L316.1,310.9 L317.4,311.6 L318.7,312.4 L319.9,313.1 L321.2,313.9 L322.4,314.7 L323.7,315.5 L324.9,316.3 L326.1,317.1 L327.3,318.0 L328.5,318.8 L329.7,319.7 L330.9,320.5 L332.1,321.4 L333.2,322.3 L334.4,323.2 L335.5,324.1 L336.7,325.0 L337.8,325.9 L338.9,326.8 L340.1,327.8 L341.2,328.7 L342.3,329.7 L343.4,330.6 L344.5,331.6 L345.6,332.5 L346.6,333.5 L347.7,334.5 L348.8,335.5 L349.9,336.5 L350.9,337.5 L352.0,338.5 L353.1,339.5 L354.1,340.5 L355.2,341.5 L356.2,342.5 L357.3,343.5 L358.3,344.5 L359.4,345.6 L360.4,346.6 L361.4,347.6 L362.5,348.6 L363.5,349.7 L364.5,350.7 L365.6,351.7 L366.6,352.8 L367.6,353.8 L368.7,354.8 L369.7,355.9 L370.7,356.9 L371.8,357.9 L372.8,359.0 L373.8,360.0 L374.9,361.0 L375.9,362.1 L377.0,363.1 L378.0,364.1 L379.1,365.1 L380.1,366.1 L381.2,367.2 L382.2,368.2 L383.3,369.2 L384.3,370.2 L385.4,371.2 L386.5,372.2 L387.6,373.2 L388.6,374.1 L389.7,375.1 L390.8,376.1 L391.9,377.1 L393.0,378.0 L394.1,379.0 L395.2,379.9 L396.4,380.9 L397.5,381.8 L398.6,382.8 L399.7,383.7 L400.9,384.6 L402.0,385.5 L403.2,386.4 L404.3,387.3 L405.5,388.2 L406.7,389.1 L407.8,390.0 L409.0,390.8 L410.2,391.7 L411.4,392.6 L412.6,393.4 L413.8,394.3 L415.0,395.1 L416.2,395.9 L417.4,396.7 L418.6,397.6 L419.8,398.4 L421.0,399.2 L422.3,400.0 L423.5,400.7 L424.7,401.5 L426.0,402.3 L427.2,403.0 L428.5,403.8 L429.8,404.5 L431.0,405.3 L432.3,406.0 L433.6,406.7 L434.8,407.4 L436.1,408.1 L437.4,408.8 L438.7,409.5 L440.0,410.2 L441.3,410.9 L442.6,411.5 L443.9,412.2 L445.2,412.8 L446.5,413.5 L447.8,414.1 L449.1,414.7 L450.5,415.3 L451.8,415.9 L453.1,416.5 L454.5,417.1 L455.8,417.6 L457.1,418.2 L458.5,418.8 L459.8,419.3 L461.2,419.8 L462.6,420.3 L463.9,420.9 L465.3,421.4 L466.7,421.8 L468.0,422.3 L469.4,422.7 L470.8,423.2 L472.2,423.6 L473.6,424.0 L475.0,424.3 L476.5,424.7 L477.9,425.0 L479.3,425.3 L480.8,425.5 L482.2,425.8 L483.7,426.0 L485.2,426.2 L486.7,426.3 L488.2,426.4 L489.7,426.5 L491.2,426.5 L492.7,426.5 L494.3,426.5 L495.8,426.4 L497.3,426.4 L498.8,426.5 L500.3,426.5 L501.7,426.7 L503.1,427.0 L504.4,427.4 L505.6,428.0 L506.8,428.7 L507.8,429.5 L508.6,430.4 L509.3,431.5 L509.7,432.7 L509.9,434.1 L509.9,435.4 L509.7,436.9 L509.3,438.4 L508.8,439.8 L508.2,441.3 L507.4,442.6 L506.6,444.0 L505.7,445.2 L504.6,446.4 L503.5,447.4 L502.4,448.4 L501.1,449.2 L499.9,449.9 L498.5,450.4 L497.2,450.8 L495.8,451.1 L494.4,451.3 L493.0,451.4 L491.5,451.3 L490.1,451.3 L488.6,451.1 L487.2,451.0 L485.7,450.7 L484.3,450.5 L482.9,450.2 L481.4,450.0 L480.0,449.6 L478.6,449.3 L477.1,449.0 L475.7,448.6 L474.3,448.2 L472.9,447.9 L471.5,447.5 L470.0,447.1 L468.6,446.7 L467.2,446.4 L465.8,446.0 L464.3,445.6 L462.9,445.2 L461.5,444.8 L460.1,444.5 L458.7,444.1 L457.3,443.7 L455.9,443.3 L454.4,442.9 L453.0,442.4 L451.6,442.0 L450.3,441.6 L448.9,441.1 L447.5,440.7 L446.1,440.2 L444.7,439.7 L443.4,439.2 L442.0,438.7 L440.6,438.2 L439.3,437.6 L438.0,437.1 L436.6,436.5 L435.3,435.9 L434.0,435.3 L432.7,434.6 L431.4,433.9 L430.1,433.3 L428.8,432.5 L427.5,431.8 L426.3,431.1 L425.0,430.3 L423.8,429.6 L422.5,428.8 L421.2,428.1 L420.0,427.3 L418.7,426.5 L417.5,425.8 L416.2,425.0 L415.0,424.3 L413.7,423.5 L412.4,422.8 L411.2,422.0 L409.9,421.3 L408.6,420.5 L407.4,419.8 L406.1,419.0 L404.9,418.3 L403.6,417.6 L402.4,416.8 L401.1,416.0 L399.9,415.3 L398.6,414.5 L397.4,413.7 L396.1,413.0 L394.9,412.2 L393.7,411.4 L392.5,410.6 L391.3,409.8 L390.0,409.0 L388.8,408.2 L387.6,407.3 L386.4,406.5 L385.2,405.7 L384.0,404.8 L382.8,404.0 L381.7,403.1 L380.5,402.3 L379.3,401.4 L378.1,400.5 L377.0,399.7 L375.8,398.8 L374.6,397.9 L373.5,397.0 L372.3,396.1 L371.2,395.2 L370.0,394.3 L368.9,393.4 L367.7,392.5 L366.6,391.6 L365.5,390.7 L364.3,389.7 L363.2,388.8 L362.1,387.9 L361.0,386.9 L359.8,386.0 L358.7,385.0 L357.6,384.1 L356.5,383.1 L355.4,382.1 L354.3,381.2 L353.2,380.2 L352.1,379.2 L351.1,378.2 L350.0,377.3 L348.9,376.3 L347.8,375.3 L346.7,374.3 L345.7,373.3 L344.6,372.3 L343.5,371.3 L342.5,370.3 L341.4,369.3 L340.4,368.2 L339.3,367.2 L338.3,366.2 L337.2,365.2 L336.2,364.1 L335.1,363.1 L334.1,362.1 L333.1,361.0 L332.0,360.0 L331.0,358.9 L330.0,357.9 L329.0,356.9 L327.9,355.8 L326.9,354.8 L325.9,353.7 L324.9,352.7 L323.8,351.6 L322.8,350.6 L321.8,349.6 L320.7,348.6 L319.7,347.5 L318.6,346.5 L317.6,345.5 L316.5,344.5 L315.4,343.5 L314.3,342.6 L313.3,341.6 L312.2,340.6 L311.0,339.7 L309.9,338.8 L308.8,337.8 L307.7,336.9 L306.5,336.0 L305.3,335.2 L304.1,334.3 L302.9,333.5 L301.7,332.7 L300.5,331.9 L299.2,331.2 L298.0,330.4 L296.7,329.8 L295.4,329.1 L294.0,328.6 L292.7,328.0 L291.3,327.5 L289.9,327.1 L288.5,326.7 L287.1,326.4 L285.6,326.1 L284.1,325.8 L282.7,325.6 L281.2,325.3 L279.7,325.0 L278.3,324.8 L276.8,324.4 L275.4,324.1 L274.0,323.7 L272.6,323.2 L271.3,322.6 L270.0,322.0Z"/></clipPath>
<clipPath id="cb"><path d="M191.0,346.5 L191.9,345.4 L192.8,344.3 L193.6,343.2 L194.5,342.1 L195.4,341.0 L196.3,339.9 L197.3,338.9 L198.2,337.8 L199.2,336.7 L200.2,335.7 L201.1,334.7 L202.1,333.7 L203.1,332.7 L204.2,331.7 L205.2,330.7 L206.3,329.7 L207.3,328.8 L208.4,327.9 L209.5,327.0 L210.6,326.1 L211.7,325.2 L212.8,324.4 L214.0,323.5 L215.1,322.7 L216.3,321.9 L217.5,321.1 L218.7,320.4 L219.9,319.7 L221.2,319.0 L222.4,318.3 L223.7,317.6 L224.9,317.0 L226.2,316.4 L227.5,315.8 L228.8,315.3 L230.1,314.7 L231.4,314.2 L232.8,313.6 L234.1,313.1 L235.4,312.6 L236.8,312.1 L238.1,311.6 L239.4,311.1 L240.7,310.6 L242.1,310.1 L243.4,309.6 L244.7,309.1 L246.0,308.5 L247.2,307.9 L248.4,307.3 L249.6,306.6 L250.7,305.7 L251.7,304.8 L252.7,303.8 L253.6,302.8 L254.5,301.6 L255.4,300.5 L256.2,299.3 L256.9,298.0 L257.7,296.7 L258.4,295.5 L259.1,294.2 L259.7,292.9 L260.4,291.6 L261.0,290.3 L261.6,289.0 L262.2,287.7 L262.8,286.4 L263.4,285.1 L263.9,283.8 L264.4,282.5 L265.0,281.2 L265.4,279.9 L265.9,278.6 L266.4,277.3 L266.9,275.9 L267.3,274.6 L267.7,273.3 L268.2,271.9 L268.6,270.6 L269.0,269.3 L269.4,267.9 L269.7,266.5 L270.1,265.2 L270.5,263.8 L270.9,262.4 L271.2,261.0 L271.6,259.7 L271.9,258.3 L272.2,256.9 L272.6,255.5 L273.0,254.1 L273.3,252.7 L273.7,251.3 L274.1,249.9 L274.5,248.6 L275.0,247.2 L275.5,245.9 L276.0,244.6 L276.6,243.3 L277.2,242.0 L277.9,240.8 L278.6,239.6 L279.4,238.5 L280.2,237.4 L281.1,236.3 L282.0,235.2 L283.0,234.2 L284.0,233.2 L285.0,232.2 L286.1,231.2 L287.1,230.3 L288.2,229.4 L289.3,228.4 L290.4,227.5 L291.5,226.6 L292.6,225.7 L293.8,224.8 L294.9,223.9 L296.0,223.1 L297.2,222.2 L298.3,221.4 L299.5,220.5 L300.6,219.7 L301.8,218.8 L302.9,218.0 L304.1,217.2 L305.3,216.4 L306.5,215.6 L307.7,214.8 L308.8,214.1 L310.0,213.3 L311.2,212.5 L312.4,211.8 L313.6,211.0 L314.9,210.3 L316.1,209.6 L317.3,208.8 L318.5,208.1 L319.7,207.4 L320.9,206.7 L322.2,206.0 L323.4,205.3 L324.6,204.7 L325.9,204.0 L327.1,203.3 L328.3,202.7 L329.6,202.0 L330.8,201.3 L332.1,200.7 L333.3,200.1 L334.6,199.4 L335.8,198.8 L337.1,198.2 L338.4,197.6 L339.6,196.9 L340.9,196.3 L342.2,195.7 L343.4,195.1 L344.7,194.5 L346.0,193.9 L347.3,193.3 L348.6,192.7 L349.9,192.1 L351.2,191.5 L352.5,190.9 L353.8,190.3 L355.1,189.7 L356.4,189.1 L357.7,188.5 L359.1,187.9 L360.4,187.4 L361.7,186.8 L363.1,186.3 L364.4,185.7 L365.7,185.2 L367.1,184.7 L368.5,184.3 L369.8,183.9 L371.2,183.5 L372.5,183.1 L373.9,182.8 L375.3,182.6 L376.7,182.3 L378.0,182.2 L379.4,182.1 L380.8,182.0 L382.2,182.0 L383.6,182.1 L385.0,182.2 L386.3,182.4 L387.7,182.7 L389.0,183.1 L390.2,183.7 L391.4,184.3 L392.5,185.1 L393.5,186.1 L394.3,187.2 L395.0,188.5 L395.6,189.9 L396.0,191.4 L396.3,192.9 L396.4,194.4 L396.3,195.9 L396.1,197.4 L395.7,198.8 L395.2,200.0 L394.5,201.2 L393.7,202.3 L392.7,203.2 L391.7,204.1 L390.5,204.7 L389.2,205.3 L387.9,205.9 L386.6,206.4 L385.2,206.8 L383.8,207.3 L382.5,207.7 L381.1,208.1 L379.7,208.5 L378.4,208.9 L377.0,209.3 L375.6,209.7 L374.2,210.0 L372.8,210.4 L371.4,210.8 L370.0,211.2 L368.7,211.6 L367.3,212.0 L365.9,212.5 L364.6,212.9 L363.3,213.4 L361.9,213.9 L360.6,214.4 L359.3,215.0 L358.0,215.6 L356.8,216.2 L355.5,216.8 L354.3,217.5 L353.1,218.2 L351.9,219.0 L350.7,219.8 L349.6,220.5 L348.4,221.4 L347.3,222.2 L346.1,223.0 L345.0,223.9 L343.9,224.7 L342.7,225.5 L341.6,226.4 L340.4,227.2 L339.2,228.0 L338.0,228.7 L336.8,229.5 L335.6,230.2 L334.4,231.0 L333.2,231.7 L332.0,232.5 L330.8,233.2 L329.6,233.9 L328.4,234.7 L327.2,235.5 L326.0,236.3 L324.9,237.1 L323.7,237.9 L322.6,238.7 L321.5,239.6 L320.4,240.5 L319.4,241.5 L318.4,242.5 L317.4,243.5 L316.4,244.5 L315.5,245.6 L314.6,246.7 L313.7,247.8 L312.8,249.0 L312.0,250.2 L311.1,251.3 L310.3,252.5 L309.6,253.7 L308.8,254.9 L308.0,256.1 L307.3,257.3 L306.6,258.5 L305.9,259.7 L305.2,260.9 L304.5,262.2 L303.8,263.4 L303.2,264.7 L302.5,265.9 L301.9,267.2 L301.3,268.4 L300.7,269.7 L300.2,271.0 L299.6,272.3 L299.1,273.6 L298.6,274.9 L298.0,276.2 L297.5,277.5 L297.1,278.9 L296.6,280.2 L296.1,281.6 L295.7,282.9 L295.2,284.3 L294.8,285.6 L294.3,287.0 L293.9,288.4 L293.4,289.8 L293.0,291.1 L292.5,292.5 L292.1,293.9 L291.6,295.2 L291.2,296.6 L290.7,297.9 L290.2,299.3 L289.7,300.6 L289.2,301.9 L288.6,303.2 L288.1,304.5 L287.5,305.8 L286.9,307.1 L286.2,308.3 L285.6,309.6 L284.9,310.8 L284.2,312.0 L283.5,313.2 L282.7,314.4 L281.9,315.5 L281.1,316.6 L280.2,317.7 L279.3,318.8 L278.4,319.9 L277.5,320.9 L276.5,321.9 L275.5,322.9 L274.5,323.9 L273.4,324.8 L272.4,325.8 L271.3,326.7 L270.2,327.6 L269.0,328.4 L267.9,329.3 L266.7,330.1 L265.6,330.9 L264.4,331.7 L263.2,332.5 L262.0,333.3 L260.8,334.0 L259.5,334.7 L258.3,335.4 L257.0,336.1 L255.8,336.7 L254.5,337.4 L253.2,338.0 L251.9,338.6 L250.6,339.2 L249.3,339.7 L248.0,340.3 L246.7,340.8 L245.4,341.3 L244.0,341.8 L242.7,342.3 L241.3,342.7 L240.0,343.2 L238.6,343.6 L237.3,344.0 L235.9,344.3 L234.5,344.7 L233.2,345.0 L231.8,345.4 L230.4,345.7 L229.0,345.9 L227.6,346.2 L226.2,346.4 L224.8,346.7 L223.4,346.9 L222.0,347.1 L220.6,347.2 L219.2,347.4 L217.8,347.5 L216.4,347.7 L214.9,347.8 L213.5,347.8 L212.1,347.9 L210.7,347.9 L209.3,348.0 L207.9,348.0 L206.5,348.0 L205.0,347.9 L203.6,347.9 L202.2,347.8 L200.8,347.8 L199.4,347.7 L198.0,347.5 L196.6,347.4 L195.2,347.3 L193.8,347.1 L192.4,346.9 L191.0,346.7Z"/></clipPath>
</defs>
<path d="M292.0,305.4 L293.3,305.8 L294.5,306.2 L295.8,306.5 L297.1,306.9 L298.3,307.2 L299.6,307.5 L300.9,307.9 L302.1,308.2 L303.4,308.5 L304.7,308.8 L305.9,309.1 L307.2,309.4 L308.5,309.7 L309.7,310.0 L311.0,310.3 L312.3,310.6 L313.6,310.9 L314.9,311.2 L316.1,311.5 L317.4,311.8 L318.7,312.1 L320.0,312.4 L321.2,312.7 L322.5,313.0 L323.8,313.2 L325.1,313.5 L326.4,313.8 L327.6,314.1 L328.9,314.4 L330.2,314.7 L331.5,314.9 L332.7,315.2 L334.0,315.5 L335.3,315.8 L336.6,316.1 L337.8,316.4 L339.1,316.7 L340.4,317.0 L341.7,317.3 L342.9,317.6 L344.2,318.0 L345.5,318.3 L346.7,318.6 L348.0,319.0 L349.2,319.3 L350.5,319.7 L351.8,320.0 L353.0,320.4 L354.3,320.8 L355.5,321.2 L356.8,321.6 L358.0,322.0 L359.3,322.4 L360.5,322.8 L361.7,323.3 L363.0,323.7 L364.2,324.1 L365.5,324.5 L366.7,324.9 L368.0,325.3 L369.2,325.7 L370.5,326.1 L371.7,326.4 L373.0,326.7 L374.3,327.0 L375.5,327.3 L376.8,327.5 L378.1,327.7 L379.4,327.9 L380.7,328.0 L382.0,328.2 L383.3,328.2 L384.6,328.3 L385.9,328.4 L387.2,328.4 L388.5,328.4 L389.9,328.4 L391.2,328.3 L392.5,328.3 L393.8,328.2 L395.1,328.1 L396.4,328.0 L397.7,327.9 L399.0,327.8 L400.3,327.6 L401.6,327.5 L402.9,327.3 L404.2,327.2 L405.5,327.0 L406.8,326.8 L408.1,326.6 L409.4,326.4 L410.7,326.2 L412.0,326.0 L413.3,325.8 L414.6,325.6 L415.9,325.4 L417.2,325.2 L418.4,325.0 L419.7,324.8 L421.0,324.5 L422.3,324.3 L423.6,324.1 L424.9,323.8 L426.2,323.6 L427.4,323.3 L428.7,323.1 L430.0,322.8 L431.3,322.6 L432.6,322.3 L433.9,322.0 L435.1,321.8 L436.4,321.5 L437.7,321.2 L439.0,320.9 L440.3,320.7 L441.6,320.4 L442.8,320.1 L444.1,319.8 L445.4,319.6 L446.7,319.3 L448.0,319.0 L449.3,318.7 L450.5,318.5 L451.8,318.2 L453.1,317.9 L454.4,317.7 L455.7,317.4 L457.0,317.1 L458.2,316.9 L459.5,316.6 L460.8,316.4 L462.1,316.1 L463.4,315.9 L464.7,315.6 L466.0,315.4 L467.2,315.2 L468.5,314.9 L469.8,314.7 L471.1,314.5 L472.4,314.3 L473.7,314.1 L475.0,313.9 L476.2,313.7 L477.5,313.5 L478.8,313.3 L480.1,313.2 L481.4,313.0 L482.7,312.9 L484.0,312.7 L485.3,312.6 L486.6,312.5 L487.9,312.3 L489.2,312.2 L490.5,312.1 L491.8,312.1 L493.1,312.0 L494.4,311.9 L495.7,311.9 L497.0,311.8 L498.3,311.8 L499.6,311.8 L500.9,311.8 L502.2,311.8 L503.5,311.8 L504.8,311.8 L506.1,311.9 L507.4,311.9 L508.8,312.0 L510.1,312.1 L511.4,312.2 L512.7,312.3 L514.1,312.5 L515.4,312.6 L516.7,312.8 L518.1,313.0 L519.4,313.2 L520.7,313.4 L522.1,313.6 L523.4,313.9 L524.7,314.2 L526.0,314.5 L527.3,314.9 L528.6,315.3 L529.7,315.8 L530.9,316.3 L532.0,316.9 L533.0,317.5 L533.9,318.3 L534.8,319.1 L535.6,320.0 L536.3,321.0 L536.9,322.1 L537.4,323.3 L537.7,324.6 L538.0,325.9 L538.2,327.2 L538.2,328.6 L538.2,330.0 L538.0,331.4 L537.7,332.7 L537.3,333.9 L536.8,335.1 L536.2,336.2 L535.4,337.2 L534.6,338.1 L533.7,339.0 L532.7,339.7 L531.6,340.2 L530.5,340.7 L529.3,341.1 L528.1,341.3 L526.9,341.4 L525.6,341.5 L524.3,341.4 L522.9,341.3 L521.6,341.1 L520.2,340.9 L518.9,340.6 L517.5,340.4 L516.1,340.1 L514.8,339.8 L513.5,339.5 L512.2,339.2 L510.9,338.9 L509.6,338.7 L508.3,338.4 L506.9,338.2 L505.6,338.0 L504.3,337.9 L503.0,337.8 L501.7,337.6 L500.4,337.6 L499.1,337.5 L497.8,337.4 L496.5,337.4 L495.2,337.4 L493.9,337.4 L492.6,337.4 L491.3,337.5 L490.0,337.5 L488.7,337.6 L487.4,337.7 L486.1,337.8 L484.8,337.9 L483.5,338.1 L482.2,338.2 L480.9,338.4 L479.7,338.5 L478.4,338.7 L477.1,338.9 L475.8,339.1 L474.5,339.3 L473.2,339.6 L471.9,339.8 L470.6,340.0 L469.3,340.3 L468.0,340.5 L466.8,340.8 L465.5,341.1 L464.2,341.3 L462.9,341.6 L461.6,341.9 L460.4,342.2 L459.1,342.5 L457.8,342.7 L456.5,343.0 L455.3,343.3 L454.0,343.6 L452.7,343.9 L451.4,344.2 L450.2,344.5 L448.9,344.8 L447.6,345.1 L446.4,345.4 L445.1,345.7 L443.8,345.9 L442.5,346.2 L441.3,346.5 L440.0,346.8 L438.7,347.1 L437.4,347.4 L436.2,347.6 L434.9,347.9 L433.6,348.2 L432.3,348.4 L431.0,348.7 L429.7,348.9 L428.4,349.2 L427.1,349.4 L425.8,349.7 L424.5,349.9 L423.2,350.1 L421.9,350.3 L420.6,350.5 L419.3,350.8 L418.0,350.9 L416.7,351.1 L415.4,351.3 L414.1,351.5 L412.8,351.6 L411.5,351.8 L410.2,351.9 L408.9,352.1 L407.6,352.2 L406.3,352.3 L405.0,352.4 L403.7,352.5 L402.4,352.5 L401.1,352.6 L399.8,352.6 L398.5,352.7 L397.2,352.7 L395.9,352.7 L394.6,352.7 L393.3,352.7 L392.0,352.6 L390.7,352.6 L389.4,352.5 L388.1,352.4 L386.8,352.3 L385.5,352.2 L384.2,352.1 L382.9,351.9 L381.7,351.7 L380.4,351.6 L379.1,351.4 L377.8,351.1 L376.5,350.9 L375.3,350.6 L374.0,350.3 L372.7,350.0 L371.5,349.7 L370.2,349.4 L368.9,349.0 L367.7,348.7 L366.4,348.3 L365.2,347.8 L363.9,347.4 L362.7,347.0 L361.5,346.5 L360.2,346.0 L359.0,345.6 L357.8,345.0 L356.6,344.5 L355.3,344.0 L354.1,343.4 L352.9,342.9 L351.7,342.3 L350.5,341.7 L349.4,341.1 L348.2,340.5 L347.0,339.9 L345.8,339.3 L344.7,338.6 L343.5,338.0 L342.4,337.3 L341.2,336.6 L340.1,336.0 L338.9,335.3 L337.8,334.6 L336.7,333.9 L335.6,333.2 L334.4,332.5 L333.3,331.9 L332.2,331.2 L331.1,330.5 L330.0,329.8 L328.8,329.2 L327.7,328.5 L326.6,327.8 L325.5,327.2 L324.3,326.6 L323.2,325.9 L322.1,325.3 L320.9,324.8 L319.8,324.2 L318.6,323.6 L317.4,323.1 L316.3,322.6 L315.1,322.1 L313.9,321.6 L312.7,321.1 L311.5,320.7 L310.3,320.3 L309.1,319.9 L307.8,319.5 L306.6,319.2 L305.3,318.9 L304.1,318.7 L302.8,318.4 L301.5,318.2 L300.2,318.1 L298.9,318.0 L297.5,317.9 L296.1,317.8 L294.8,317.8 L293.4,317.9 L292.0,317.9Z" fill="#07b891" stroke="#000" stroke-width="6.8" stroke-linejoin="round" clip-path="url(#cg)"/>
<path d="M246.0,332.0 L247.5,333.0 L248.9,333.9 L250.3,334.9 L251.7,335.9 L253.1,336.9 L254.6,337.8 L256.0,338.8 L257.5,339.7 L259.0,340.5 L260.5,341.3 L262.1,342.1 L263.7,342.8 L265.3,343.5 L267.0,344.2 L268.7,344.8 L270.3,345.5 L271.9,346.3 L273.4,347.2 L274.8,348.1 L276.0,349.2 L277.2,350.4 L278.3,351.7 L279.4,353.0 L280.3,354.4 L281.2,355.8 L282.1,357.3 L282.8,358.8 L283.6,360.4 L284.3,361.9 L284.9,363.5 L285.5,365.1 L286.1,366.8 L286.7,368.4 L287.2,370.0 L287.7,371.7 L288.2,373.4 L288.7,375.0 L289.1,376.7 L289.6,378.4 L290.0,380.1 L290.4,381.8 L290.9,383.5 L291.3,385.2 L291.7,386.9 L292.2,388.6 L292.7,390.2 L293.1,391.9 L293.7,393.6 L294.2,395.2 L294.7,396.9 L295.3,398.5 L295.9,400.1 L296.6,401.7 L297.3,403.3 L298.0,404.9 L298.8,406.4 L299.5,408.0 L300.3,409.5 L301.2,411.0 L302.0,412.5 L302.9,413.9 L303.9,415.4 L304.8,416.8 L305.8,418.2 L306.8,419.7 L307.8,421.1 L308.8,422.5 L309.8,423.9 L310.8,425.3 L311.8,426.6 L312.9,428.0 L313.9,429.4 L314.9,430.9 L315.9,432.3 L316.9,433.7 L317.9,435.1 L318.9,436.5 L319.9,437.9 L320.9,439.3 L321.9,440.8 L322.9,442.2 L323.9,443.6 L324.9,445.0 L325.9,446.4 L327.0,447.7 L328.0,449.1 L329.1,450.5 L330.2,451.8 L331.2,453.2 L332.3,454.5 L333.4,455.8 L334.5,457.1 L335.6,458.5 L336.8,459.8 L337.9,461.1 L339.0,462.5 L340.0,463.8 L341.1,465.2 L342.2,466.5 L343.3,467.9 L344.3,469.3 L345.4,470.6 L346.5,472.0 L347.5,473.4 L348.6,474.8 L349.7,476.1 L350.7,477.5 L351.8,478.8 L352.9,480.2 L354.1,481.5 L355.2,482.8 L356.4,484.1 L357.5,485.3 L358.7,486.6 L359.9,487.8 L361.2,489.0 L362.4,490.2 L363.7,491.4 L365.0,492.5 L366.3,493.6 L367.6,494.7 L368.9,495.8 L370.3,496.9 L371.7,498.0 L373.0,499.0 L374.4,500.1 L375.8,501.1 L377.2,502.1 L378.6,503.1 L380.1,504.1 L381.5,505.1 L383.0,506.0 L384.4,507.0 L385.9,507.9 L387.3,508.8 L388.8,509.8 L390.3,510.7 L391.8,511.6 L393.3,512.4 L394.7,513.3 L396.2,514.2 L397.7,515.0 L399.3,515.9 L400.8,516.7 L402.3,517.6 L403.8,518.4 L405.4,519.2 L406.9,520.0 L408.4,520.7 L410.0,521.5 L411.5,522.3 L413.1,523.0 L414.7,523.8 L416.2,524.5 L417.8,525.2 L419.4,525.9 L421.0,526.6 L422.6,527.3 L424.2,527.9 L425.8,528.6 L427.4,529.2 L429.0,529.9 L430.6,530.5 L432.2,531.1 L433.8,531.7 L435.5,532.3 L437.1,532.8 L438.7,533.4 L440.4,533.9 L442.0,534.5 L443.7,535.0 L445.3,535.5 L447.0,536.0 L448.7,536.5 L450.3,537.0 L452.0,537.4 L453.7,537.9 L455.4,538.3 L457.0,538.8 L458.7,539.2 L460.4,539.6 L462.1,540.0 L463.8,540.4 L465.4,540.7 L467.1,541.1 L468.8,541.4 L470.5,541.8 L472.2,542.1 L473.9,542.3 L475.6,542.6 L477.3,542.7 L479.0,542.9 L480.7,542.9 L482.5,542.9 L484.2,542.8 L485.9,542.6 L487.7,542.2 L489.4,541.8 L491.1,541.2 L492.7,540.4 L494.3,539.5 L495.8,538.4 L497.2,537.2 L498.4,535.8 L499.4,534.4 L500.1,532.9 L500.6,531.3 L500.6,529.8 L500.3,528.3 L499.7,526.9 L498.8,525.6 L497.7,524.4 L496.4,523.3 L495.0,522.4 L493.4,521.7 L491.8,521.2 L490.1,520.8 L488.4,520.5 L486.6,520.4 L484.8,520.3 L483.0,520.2 L481.2,520.0 L479.4,519.8 L477.7,519.6 L475.9,519.3 L474.2,519.0 L472.5,518.6 L470.9,518.1 L469.2,517.7 L467.6,517.2 L465.9,516.6 L464.3,516.0 L462.7,515.4 L461.1,514.8 L459.6,514.1 L458.0,513.4 L456.4,512.7 L454.9,511.9 L453.3,511.2 L451.8,510.4 L450.2,509.6 L448.7,508.8 L447.2,508.0 L445.6,507.2 L444.1,506.4 L442.6,505.6 L441.1,504.7 L439.6,503.9 L438.1,503.1 L436.5,502.2 L435.0,501.3 L433.5,500.5 L432.0,499.6 L430.5,498.7 L429.0,497.9 L427.5,497.0 L426.1,496.1 L424.6,495.2 L423.1,494.3 L421.6,493.4 L420.1,492.6 L418.6,491.7 L417.1,490.8 L415.6,489.9 L414.1,489.0 L412.6,488.1 L411.1,487.2 L409.7,486.4 L408.2,485.5 L406.7,484.6 L405.2,483.7 L403.7,482.8 L402.3,481.9 L400.9,480.9 L399.5,479.9 L398.1,478.9 L396.7,477.8 L395.4,476.7 L394.1,475.5 L392.8,474.4 L391.6,473.2 L390.3,472.0 L389.1,470.8 L387.9,469.5 L386.6,468.3 L385.4,467.1 L384.2,465.8 L383.0,464.6 L381.8,463.4 L380.6,462.1 L379.4,460.9 L378.1,459.7 L376.9,458.5 L375.6,457.3 L374.4,456.1 L373.1,454.9 L371.9,453.7 L370.6,452.5 L369.4,451.3 L368.2,450.0 L366.9,448.8 L365.7,447.6 L364.5,446.3 L363.4,445.1 L362.2,443.8 L361.0,442.5 L359.9,441.2 L358.8,439.9 L357.6,438.6 L356.5,437.3 L355.4,436.0 L354.3,434.6 L353.2,433.3 L352.1,431.9 L351.1,430.6 L350.0,429.2 L349.0,427.8 L347.9,426.5 L346.9,425.1 L345.8,423.7 L344.8,422.3 L343.8,420.9 L342.8,419.5 L341.8,418.1 L340.8,416.7 L339.8,415.2 L338.8,413.8 L337.8,412.4 L336.8,411.0 L335.9,409.5 L334.9,408.1 L333.9,406.6 L333.0,405.2 L332.0,403.7 L331.1,402.3 L330.1,400.8 L329.2,399.4 L328.3,397.9 L327.4,396.4 L326.5,395.0 L325.6,393.5 L324.8,392.0 L323.9,390.5 L323.1,388.9 L322.4,387.4 L321.7,385.9 L321.1,384.3 L320.5,382.7 L319.9,381.1 L319.4,379.5 L318.9,377.8 L318.4,376.2 L318.0,374.5 L317.6,372.8 L317.2,371.1 L316.8,369.4 L316.4,367.7 L316.0,365.9 L315.6,364.2 L315.2,362.5 L314.8,360.8 L314.4,359.1 L314.0,357.4 L313.5,355.7 L313.0,354.1 L312.4,352.4 L311.8,350.8 L311.2,349.2 L310.5,347.7 L309.8,346.1 L309.0,344.6 L308.1,343.2 L307.2,341.7 L306.2,340.3 L305.2,339.0 L304.1,337.7 L302.9,336.4 L301.7,335.1 L300.5,333.9 L299.2,332.7 L297.9,331.6 L296.6,330.5 L295.2,329.4 L293.8,328.4 L292.3,327.4 L290.8,326.5 L289.3,325.6 L287.8,324.7 L286.2,323.9 L284.7,323.1 L283.1,322.4 L281.5,321.7 L279.8,321.0 L278.2,320.4 L276.6,319.8 L274.9,319.3 L273.3,318.8 L271.6,318.4 L270.0,318.0Z" fill="#fdc86a" stroke="#000" stroke-width="6.8" stroke-linejoin="round" clip-path="url(#cy)"/>
<path d="M264.0,314.0 L264.9,312.8 L265.9,311.7 L266.9,310.6 L268.0,309.7 L269.1,308.8 L270.3,307.9 L271.6,307.2 L272.8,306.5 L274.2,305.9 L275.5,305.3 L276.9,304.8 L278.3,304.4 L279.7,304.0 L281.1,303.7 L282.6,303.4 L284.0,303.2 L285.5,303.1 L287.0,303.0 L288.5,302.9 L289.9,302.9 L291.4,303.0 L292.8,303.1 L294.3,303.3 L295.7,303.5 L297.1,303.7 L298.5,304.0 L299.9,304.3 L301.3,304.7 L302.7,305.1 L304.1,305.5 L305.5,306.0 L306.8,306.5 L308.2,307.1 L309.5,307.6 L310.9,308.2 L312.2,308.9 L313.5,309.5 L314.8,310.2 L316.1,310.9 L317.4,311.6 L318.7,312.4 L319.9,313.1 L321.2,313.9 L322.4,314.7 L323.7,315.5 L324.9,316.3 L326.1,317.1 L327.3,318.0 L328.5,318.8 L329.7,319.7 L330.9,320.5 L332.1,321.4 L333.2,322.3 L334.4,323.2 L335.5,324.1 L336.7,325.0 L337.8,325.9 L338.9,326.8 L340.1,327.8 L341.2,328.7 L342.3,329.7 L343.4,330.6 L344.5,331.6 L345.6,332.5 L346.6,333.5 L347.7,334.5 L348.8,335.5 L349.9,336.5 L350.9,337.5 L352.0,338.5 L353.1,339.5 L354.1,340.5 L355.2,341.5 L356.2,342.5 L357.3,343.5 L358.3,344.5 L359.4,345.6 L360.4,346.6 L361.4,347.6 L362.5,348.6 L363.5,349.7 L364.5,350.7 L365.6,351.7 L366.6,352.8 L367.6,353.8 L368.7,354.8 L369.7,355.9 L370.7,356.9 L371.8,357.9 L372.8,359.0 L373.8,360.0 L374.9,361.0 L375.9,362.1 L377.0,363.1 L378.0,364.1 L379.1,365.1 L380.1,366.1 L381.2,367.2 L382.2,368.2 L383.3,369.2 L384.3,370.2 L385.4,371.2 L386.5,372.2 L387.6,373.2 L388.6,374.1 L389.7,375.1 L390.8,376.1 L391.9,377.1 L393.0,378.0 L394.1,379.0 L395.2,379.9 L396.4,380.9 L397.5,381.8 L398.6,382.8 L399.7,383.7 L400.9,384.6 L402.0,385.5 L403.2,386.4 L404.3,387.3 L405.5,388.2 L406.7,389.1 L407.8,390.0 L409.0,390.8 L410.2,391.7 L411.4,392.6 L412.6,393.4 L413.8,394.3 L415.0,395.1 L416.2,395.9 L417.4,396.7 L418.6,397.6 L419.8,398.4 L421.0,399.2 L422.3,400.0 L423.5,400.7 L424.7,401.5 L426.0,402.3 L427.2,403.0 L428.5,403.8 L429.8,404.5 L431.0,405.3 L432.3,406.0 L433.6,406.7 L434.8,407.4 L436.1,408.1 L437.4,408.8 L438.7,409.5 L440.0,410.2 L441.3,410.9 L442.6,411.5 L443.9,412.2 L445.2,412.8 L446.5,413.5 L447.8,414.1 L449.1,414.7 L450.5,415.3 L451.8,415.9 L453.1,416.5 L454.5,417.1 L455.8,417.6 L457.1,418.2 L458.5,418.8 L459.8,419.3 L461.2,419.8 L462.6,420.3 L463.9,420.9 L465.3,421.4 L466.7,421.8 L468.0,422.3 L469.4,422.7 L470.8,423.2 L472.2,423.6 L473.6,424.0 L475.0,424.3 L476.5,424.7 L477.9,425.0 L479.3,425.3 L480.8,425.5 L482.2,425.8 L483.7,426.0 L485.2,426.2 L486.7,426.3 L488.2,426.4 L489.7,426.5 L491.2,426.5 L492.7,426.5 L494.3,426.5 L495.8,426.4 L497.3,426.4 L498.8,426.5 L500.3,426.5 L501.7,426.7 L503.1,427.0 L504.4,427.4 L505.6,428.0 L506.8,428.7 L507.8,429.5 L508.6,430.4 L509.3,431.5 L509.7,432.7 L509.9,434.1 L509.9,435.4 L509.7,436.9 L509.3,438.4 L508.8,439.8 L508.2,441.3 L507.4,442.6 L506.6,444.0 L505.7,445.2 L504.6,446.4 L503.5,447.4 L502.4,448.4 L501.1,449.2 L499.9,449.9 L498.5,450.4 L497.2,450.8 L495.8,451.1 L494.4,451.3 L493.0,451.4 L491.5,451.3 L490.1,451.3 L488.6,451.1 L487.2,451.0 L485.7,450.7 L484.3,450.5 L482.9,450.2 L481.4,450.0 L480.0,449.6 L478.6,449.3 L477.1,449.0 L475.7,448.6 L474.3,448.2 L472.9,447.9 L471.5,447.5 L470.0,447.1 L468.6,446.7 L467.2,446.4 L465.8,446.0 L464.3,445.6 L462.9,445.2 L461.5,444.8 L460.1,444.5 L458.7,444.1 L457.3,443.7 L455.9,443.3 L454.4,442.9 L453.0,442.4 L451.6,442.0 L450.3,441.6 L448.9,441.1 L447.5,440.7 L446.1,440.2 L444.7,439.7 L443.4,439.2 L442.0,438.7 L440.6,438.2 L439.3,437.6 L438.0,437.1 L436.6,436.5 L435.3,435.9 L434.0,435.3 L432.7,434.6 L431.4,433.9 L430.1,433.3 L428.8,432.5 L427.5,431.8 L426.3,431.1 L425.0,430.3 L423.8,429.6 L422.5,428.8 L421.2,428.1 L420.0,427.3 L418.7,426.5 L417.5,425.8 L416.2,425.0 L415.0,424.3 L413.7,423.5 L412.4,422.8 L411.2,422.0 L409.9,421.3 L408.6,420.5 L407.4,419.8 L406.1,419.0 L404.9,418.3 L403.6,417.6 L402.4,416.8 L401.1,416.0 L399.9,415.3 L398.6,414.5 L397.4,413.7 L396.1,413.0 L394.9,412.2 L393.7,411.4 L392.5,410.6 L391.3,409.8 L390.0,409.0 L388.8,408.2 L387.6,407.3 L386.4,406.5 L385.2,405.7 L384.0,404.8 L382.8,404.0 L381.7,403.1 L380.5,402.3 L379.3,401.4 L378.1,400.5 L377.0,399.7 L375.8,398.8 L374.6,397.9 L373.5,397.0 L372.3,396.1 L371.2,395.2 L370.0,394.3 L368.9,393.4 L367.7,392.5 L366.6,391.6 L365.5,390.7 L364.3,389.7 L363.2,388.8 L362.1,387.9 L361.0,386.9 L359.8,386.0 L358.7,385.0 L357.6,384.1 L356.5,383.1 L355.4,382.1 L354.3,381.2 L353.2,380.2 L352.1,379.2 L351.1,378.2 L350.0,377.3 L348.9,376.3 L347.8,375.3 L346.7,374.3 L345.7,373.3 L344.6,372.3 L343.5,371.3 L342.5,370.3 L341.4,369.3 L340.4,368.2 L339.3,367.2 L338.3,366.2 L337.2,365.2 L336.2,364.1 L335.1,363.1 L334.1,362.1 L333.1,361.0 L332.0,360.0 L331.0,358.9 L330.0,357.9 L329.0,356.9 L327.9,355.8 L326.9,354.8 L325.9,353.7 L324.9,352.7 L323.8,351.6 L322.8,350.6 L321.8,349.6 L320.7,348.6 L319.7,347.5 L318.6,346.5 L317.6,345.5 L316.5,344.5 L315.4,343.5 L314.3,342.6 L313.3,341.6 L312.2,340.6 L311.0,339.7 L309.9,338.8 L308.8,337.8 L307.7,336.9 L306.5,336.0 L305.3,335.2 L304.1,334.3 L302.9,333.5 L301.7,332.7 L300.5,331.9 L299.2,331.2 L298.0,330.4 L296.7,329.8 L295.4,329.1 L294.0,328.6 L292.7,328.0 L291.3,327.5 L289.9,327.1 L288.5,326.7 L287.1,326.4 L285.6,326.1 L284.1,325.8 L282.7,325.6 L281.2,325.3 L279.7,325.0 L278.3,324.8 L276.8,324.4 L275.4,324.1 L274.0,323.7 L272.6,323.2 L271.3,322.6 L270.0,322.0Z" fill="#fb74a6" stroke="#000" stroke-width="6.8" stroke-linejoin="round" clip-path="url(#cp)"/>
<path d="M191.0,346.5 L191.9,345.4 L192.8,344.3 L193.6,343.2 L194.5,342.1 L195.4,341.0 L196.3,339.9 L197.3,338.9 L198.2,337.8 L199.2,336.7 L200.2,335.7 L201.1,334.7 L202.1,333.7 L203.1,332.7 L204.2,331.7 L205.2,330.7 L206.3,329.7 L207.3,328.8 L208.4,327.9 L209.5,327.0 L210.6,326.1 L211.7,325.2 L212.8,324.4 L214.0,323.5 L215.1,322.7 L216.3,321.9 L217.5,321.1 L218.7,320.4 L219.9,319.7 L221.2,319.0 L222.4,318.3 L223.7,317.6 L224.9,317.0 L226.2,316.4 L227.5,315.8 L228.8,315.3 L230.1,314.7 L231.4,314.2 L232.8,313.6 L234.1,313.1 L235.4,312.6 L236.8,312.1 L238.1,311.6 L239.4,311.1 L240.7,310.6 L242.1,310.1 L243.4,309.6 L244.7,309.1 L246.0,308.5 L247.2,307.9 L248.4,307.3 L249.6,306.6 L250.7,305.7 L251.7,304.8 L252.7,303.8 L253.6,302.8 L254.5,301.6 L255.4,300.5 L256.2,299.3 L256.9,298.0 L257.7,296.7 L258.4,295.5 L259.1,294.2 L259.7,292.9 L260.4,291.6 L261.0,290.3 L261.6,289.0 L262.2,287.7 L262.8,286.4 L263.4,285.1 L263.9,283.8 L264.4,282.5 L265.0,281.2 L265.4,279.9 L265.9,278.6 L266.4,277.3 L266.9,275.9 L267.3,274.6 L267.7,273.3 L268.2,271.9 L268.6,270.6 L269.0,269.3 L269.4,267.9 L269.7,266.5 L270.1,265.2 L270.5,263.8 L270.9,262.4 L271.2,261.0 L271.6,259.7 L271.9,258.3 L272.2,256.9 L272.6,255.5 L273.0,254.1 L273.3,252.7 L273.7,251.3 L274.1,249.9 L274.5,248.6 L275.0,247.2 L275.5,245.9 L276.0,244.6 L276.6,243.3 L277.2,242.0 L277.9,240.8 L278.6,239.6 L279.4,238.5 L280.2,237.4 L281.1,236.3 L282.0,235.2 L283.0,234.2 L284.0,233.2 L285.0,232.2 L286.1,231.2 L287.1,230.3 L288.2,229.4 L289.3,228.4 L290.4,227.5 L291.5,226.6 L292.6,225.7 L293.8,224.8 L294.9,223.9 L296.0,223.1 L297.2,222.2 L298.3,221.4 L299.5,220.5 L300.6,219.7 L301.8,218.8 L302.9,218.0 L304.1,217.2 L305.3,216.4 L306.5,215.6 L307.7,214.8 L308.8,214.1 L310.0,213.3 L311.2,212.5 L312.4,211.8 L313.6,211.0 L314.9,210.3 L316.1,209.6 L317.3,208.8 L318.5,208.1 L319.7,207.4 L320.9,206.7 L322.2,206.0 L323.4,205.3 L324.6,204.7 L325.9,204.0 L327.1,203.3 L328.3,202.7 L329.6,202.0 L330.8,201.3 L332.1,200.7 L333.3,200.1 L334.6,199.4 L335.8,198.8 L337.1,198.2 L338.4,197.6 L339.6,196.9 L340.9,196.3 L342.2,195.7 L343.4,195.1 L344.7,194.5 L346.0,193.9 L347.3,193.3 L348.6,192.7 L349.9,192.1 L351.2,191.5 L352.5,190.9 L353.8,190.3 L355.1,189.7 L356.4,189.1 L357.7,188.5 L359.1,187.9 L360.4,187.4 L361.7,186.8 L363.1,186.3 L364.4,185.7 L365.7,185.2 L367.1,184.7 L368.5,184.3 L369.8,183.9 L371.2,183.5 L372.5,183.1 L373.9,182.8 L375.3,182.6 L376.7,182.3 L378.0,182.2 L379.4,182.1 L380.8,182.0 L382.2,182.0 L383.6,182.1 L385.0,182.2 L386.3,182.4 L387.7,182.7 L389.0,183.1 L390.2,183.7 L391.4,184.3 L392.5,185.1 L393.5,186.1 L394.3,187.2 L395.0,188.5 L395.6,189.9 L396.0,191.4 L396.3,192.9 L396.4,194.4 L396.3,195.9 L396.1,197.4 L395.7,198.8 L395.2,200.0 L394.5,201.2 L393.7,202.3 L392.7,203.2 L391.7,204.1 L390.5,204.7 L389.2,205.3 L387.9,205.9 L386.6,206.4 L385.2,206.8 L383.8,207.3 L382.5,207.7 L381.1,208.1 L379.7,208.5 L378.4,208.9 L377.0,209.3 L375.6,209.7 L374.2,210.0 L372.8,210.4 L371.4,210.8 L370.0,211.2 L368.7,211.6 L367.3,212.0 L365.9,212.5 L364.6,212.9 L363.3,213.4 L361.9,213.9 L360.6,214.4 L359.3,215.0 L358.0,215.6 L356.8,216.2 L355.5,216.8 L354.3,217.5 L353.1,218.2 L351.9,219.0 L350.7,219.8 L349.6,220.5 L348.4,221.4 L347.3,222.2 L346.1,223.0 L345.0,223.9 L343.9,224.7 L342.7,225.5 L341.6,226.4 L340.4,227.2 L339.2,228.0 L338.0,228.7 L336.8,229.5 L335.6,230.2 L334.4,231.0 L333.2,231.7 L332.0,232.5 L330.8,233.2 L329.6,233.9 L328.4,234.7 L327.2,235.5 L326.0,236.3 L324.9,237.1 L323.7,237.9 L322.6,238.7 L321.5,239.6 L320.4,240.5 L319.4,241.5 L318.4,242.5 L317.4,243.5 L316.4,244.5 L315.5,245.6 L314.6,246.7 L313.7,247.8 L312.8,249.0 L312.0,250.2 L311.1,251.3 L310.3,252.5 L309.6,253.7 L308.8,254.9 L308.0,256.1 L307.3,257.3 L306.6,258.5 L305.9,259.7 L305.2,260.9 L304.5,262.2 L303.8,263.4 L303.2,264.7 L302.5,265.9 L301.9,267.2 L301.3,268.4 L300.7,269.7 L300.2,271.0 L299.6,272.3 L299.1,273.6 L298.6,274.9 L298.0,276.2 L297.5,277.5 L297.1,278.9 L296.6,280.2 L296.1,281.6 L295.7,282.9 L295.2,284.3 L294.8,285.6 L294.3,287.0 L293.9,288.4 L293.4,289.8 L293.0,291.1 L292.5,292.5 L292.1,293.9 L291.6,295.2 L291.2,296.6 L290.7,297.9 L290.2,299.3 L289.7,300.6 L289.2,301.9 L288.6,303.2 L288.1,304.5 L287.5,305.8 L286.9,307.1 L286.2,308.3 L285.6,309.6 L284.9,310.8 L284.2,312.0 L283.5,313.2 L282.7,314.4 L281.9,315.5 L281.1,316.6 L280.2,317.7 L279.3,318.8 L278.4,319.9 L277.5,320.9 L276.5,321.9 L275.5,322.9 L274.5,323.9 L273.4,324.8 L272.4,325.8 L271.3,326.7 L270.2,327.6 L269.0,328.4 L267.9,329.3 L266.7,330.1 L265.6,330.9 L264.4,331.7 L263.2,332.5 L262.0,333.3 L260.8,334.0 L259.5,334.7 L258.3,335.4 L257.0,336.1 L255.8,336.7 L254.5,337.4 L253.2,338.0 L251.9,338.6 L250.6,339.2 L249.3,339.7 L248.0,340.3 L246.7,340.8 L245.4,341.3 L244.0,341.8 L242.7,342.3 L241.3,342.7 L240.0,343.2 L238.6,343.6 L237.3,344.0 L235.9,344.3 L234.5,344.7 L233.2,345.0 L231.8,345.4 L230.4,345.7 L229.0,345.9 L227.6,346.2 L226.2,346.4 L224.8,346.7 L223.4,346.9 L222.0,347.1 L220.6,347.2 L219.2,347.4 L217.8,347.5 L216.4,347.7 L214.9,347.8 L213.5,347.8 L212.1,347.9 L210.7,347.9 L209.3,348.0 L207.9,348.0 L206.5,348.0 L205.0,347.9 L203.6,347.9 L202.2,347.8 L200.8,347.8 L199.4,347.7 L198.0,347.5 L196.6,347.4 L195.2,347.3 L193.8,347.1 L192.4,346.9 L191.0,346.7Z" fill="#0b83e1" stroke="#000" stroke-width="6.8" stroke-linejoin="round" clip-path="url(#cb)"/>
<g font-family="'Liberation Sans', sans-serif" stroke-linejoin="round" stroke-linecap="round" style="filter:grayscale(1)">
<text x="83.91" y="291.98" font-size="31.00" textLength="77.48" lengthAdjust="spacingAndGlyphs" fill="#000" stroke="#000" stroke-width="1.25">IKIGAI</text>
<text x="394.88" y="179.18" font-size="21.30" textLength="49.66" lengthAdjust="spacingAndGlyphs" fill="#000" stroke="#000" stroke-width="1.25">WHAT</text>
<text x="448.27" y="179.18" font-size="21.30" textLength="60.50" lengthAdjust="spacingAndGlyphs" fill="#000" stroke="#000" stroke-width="1.25">YOU’RE</text>
<text x="414.32" y="202.78" font-size="21.30" textLength="47.52" lengthAdjust="spacingAndGlyphs" fill="#000" stroke="#000" stroke-width="1.25">GOOD</text>
<text x="467.68" y="202.78" font-size="21.30" textLength="21.77" lengthAdjust="spacingAndGlyphs" fill="#000" stroke="#000" stroke-width="1.25">AT</text>
<text x="528.81" y="311.07" font-size="21.30" textLength="45.69" lengthAdjust="spacingAndGlyphs" fill="#000" stroke="#000" stroke-width="1.25">WHAT</text>
<text x="580.40" y="311.07" font-size="21.30" textLength="35.68" lengthAdjust="spacingAndGlyphs" fill="#000" stroke="#000" stroke-width="1.25">YOU</text>
<text x="549.17" y="334.57" font-size="21.30" textLength="44.87" lengthAdjust="spacingAndGlyphs" fill="#000" stroke="#000" stroke-width="1.25">LOVE</text>
<text x="516.17" y="446.48" font-size="21.30" textLength="44.00" lengthAdjust="spacingAndGlyphs" fill="#000" stroke="#000" stroke-width="1.25">WHAT</text>
<text x="568.96" y="446.48" font-size="21.30" textLength="30.91" lengthAdjust="spacingAndGlyphs" fill="#000" stroke="#000" stroke-width="1.25">THE</text>
<text x="500.43" y="469.98" font-size="21.30" textLength="55.99" lengthAdjust="spacingAndGlyphs" fill="#000" stroke="#000" stroke-width="1.25">WORLD</text>
<text x="561.16" y="469.98" font-size="21.30" textLength="55.19" lengthAdjust="spacingAndGlyphs" fill="#000" stroke="#000" stroke-width="1.25">NEEDS</text>
<text x="452.61" y="574.97" font-size="21.30" textLength="44.90" lengthAdjust="spacingAndGlyphs" fill="#000" stroke="#000" stroke-width="1.25">WHAT</text>
<text x="506.28" y="574.97" font-size="21.30" textLength="34.34" lengthAdjust="spacingAndGlyphs" fill="#000" stroke="#000" stroke-width="1.25">YOU</text>
<text x="547.06" y="574.97" font-size="21.30" textLength="36.44" lengthAdjust="spacingAndGlyphs" fill="#000" stroke="#000" stroke-width="1.25">CAN</text>
<text x="460.38" y="598.57" font-size="21.30" textLength="29.11" lengthAdjust="spacingAndGlyphs" fill="#000" stroke="#000" stroke-width="1.25">GET</text>
<text x="497.42" y="598.57" font-size="21.30" textLength="38.51" lengthAdjust="spacingAndGlyphs" fill="#000" stroke="#000" stroke-width="1.25">PAID</text>
<text x="542.45" y="598.57" font-size="21.30" textLength="32.49" lengthAdjust="spacingAndGlyphs" fill="#000" stroke="#000" stroke-width="1.25">FOR</text>
<text x="298.45" y="676.25" font-size="14.00" textLength="14.80" lengthAdjust="spacingAndGlyphs" fill="#222" stroke="#222" stroke-width="0.8">@</text>
<text x="314.09" y="678.15" font-size="15.50" textLength="88.42" lengthAdjust="spacingAndGlyphs" fill="#222" stroke="#222" stroke-width="0.9">JUNHANCHIN</text>
</g>
</svg></body></html>
